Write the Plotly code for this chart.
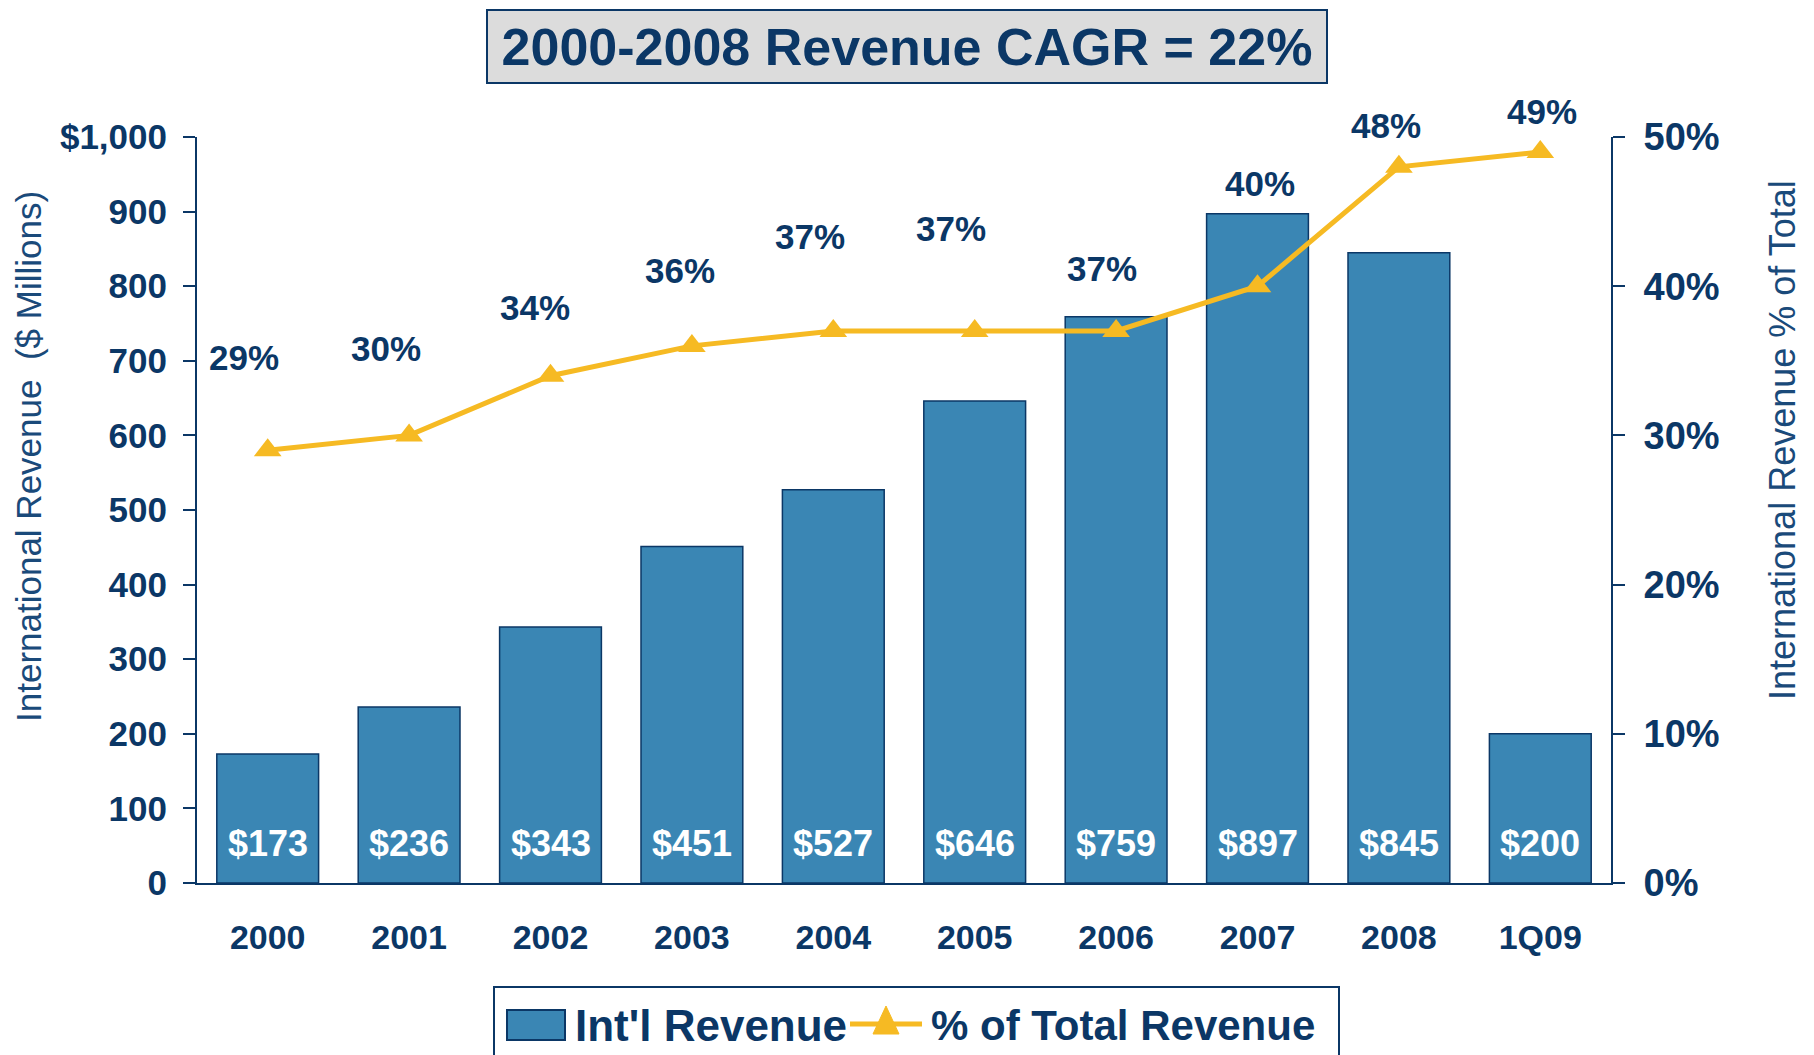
import plotly.graph_objects as go

# ---- data ----
categories = ["2000", "2001", "2002", "2003", "2004", "2005", "2006", "2007", "2008", "1Q09"]
intl_revenue = [173, 236, 343, 451, 527, 646, 759, 897, 845, 200]
pct_of_total = [29, 30, 34, 36, 37, 37, 37, 40, 48, 49]
left_ticks = [0, 100, 200, 300, 400, 500, 600, 700, 800, 900, 1000]
left_tick_text = ["0", "100", "200", "300", "400", "500", "600", "700", "800", "900", "$1,000"]
right_ticks = [0, 10, 20, 30, 40, 50]
right_tick_text = ["0%", "10%", "20%", "30%", "40%", "50%"]

# label offsets (pixels) for % labels relative to the points (style only)
pct_label_dx = [-24, -23, -16, -12, -23, -24, -14, 2, -13, 2]
pct_label_dy = [93, 87, 68, 75, 94, 102, 62, 103, 41, 40]

NAVY = "#0B3766"
BAR = "#3A86B4"
GOLD = "#F6BA23"
FONT = "Liberation Sans, Arial, sans-serif"

W, H = 1814, 1055
L, R, T, B = 197, 1611, 137, 883


def px(x):
    return (x - L) / (R - L)


def py(y):
    return (B - y) / (B - T)


fig = go.Figure()
fig.add_trace(go.Bar(
    x=categories, y=intl_revenue, name="Int'l Revenue",
    marker=dict(color=BAR, line=dict(color=NAVY, width=1.5)),
    showlegend=False, yaxis="y",
))
fig.add_trace(go.Scatter(
    x=categories, y=pct_of_total, name="% of Total Revenue",
    mode="lines+markers", yaxis="y2",
    line=dict(color=GOLD, width=5),
    marker=dict(symbol="triangle-up", size=24, color=GOLD),
    showlegend=False,
))

annotations = []
# bar value labels (x given as category index)
for i, v in enumerate(intl_revenue):
    annotations.append(dict(
        x=i, y=0, xref="x", yref="y", text=f"${v:,}", showarrow=False,
        yanchor="middle", yshift=40,
        font=dict(family=FONT, size=36, color="white", weight="bold"),
    ))
# percent labels
for i, (v, dx, dy) in enumerate(zip(pct_of_total, pct_label_dx, pct_label_dy)):
    annotations.append(dict(
        x=i, y=v, xref="x", yref="y2", text=f"{v}%", showarrow=False,
        yanchor="middle", xanchor="center", xshift=dx, yshift=dy,
        font=dict(family=FONT, size=35, color=NAVY, weight="bold"),
    ))
# title box
annotations.append(dict(
    x=px(907), y=py(47), xref="paper", yref="paper", showarrow=False,
    text="2000-2008 Revenue CAGR = 22%", xanchor="center", yanchor="middle",
    width=838, height=71, borderpad=0, bgcolor="#DCDCDC",
    bordercolor=NAVY, borderwidth=2,
    font=dict(family=FONT, size=52, color=NAVY, weight="bold"),
))
# axis titles
annotations.append(dict(
    x=px(29), y=py(457), xref="paper", yref="paper", showarrow=False,
    text="International Revenue  ($ Millions)", textangle=-90,
    xanchor="center", yanchor="middle",
    font=dict(family=FONT, size=35, color="#1A4A7A"),
))
annotations.append(dict(
    x=px(1782), y=py(440), xref="paper", yref="paper", showarrow=False,
    text="International Revenue % of Total", textangle=-90,
    xanchor="center", yanchor="middle",
    font=dict(family=FONT, size=36, color="#1A4A7A"),
))
# legend texts
annotations.append(dict(
    x=px(573), y=py(1025), xref="paper", yref="paper", showarrow=False,
    text="Int'l Revenue", xanchor="left", yanchor="middle",
    font=dict(family=FONT, size=44, color=NAVY, weight="bold"),
))
annotations.append(dict(
    x=px(929), y=py(1025), xref="paper", yref="paper", showarrow=False,
    text="% of Total Revenue", xanchor="left", yanchor="middle",
    font=dict(family=FONT, size=42, color=NAVY, weight="bold"),
))

shapes = [
    # legend box
    dict(type="rect", xref="paper", yref="paper", x0=px(494), x1=px(1339),
         y0=py(1075), y1=py(987), line=dict(color=NAVY, width=2), fillcolor="white", layer="below"),
    # legend bar swatch
    dict(type="rect", xref="paper", yref="paper", x0=px(507), x1=px(565),
         y0=py(1040), y1=py(1010), line=dict(color=NAVY, width=2), fillcolor=BAR),
    # legend line
    dict(type="line", xref="paper", yref="paper", x0=px(850), x1=px(922),
         y0=py(1024), y1=py(1024), line=dict(color=GOLD, width=5)),
    # legend triangle
    dict(type="path", xref="paper", yref="paper",
         path=f"M {px(873)},{py(1034)} L {px(899)},{py(1034)} L {px(886)},{py(1006)} Z",
         line=dict(color=GOLD, width=1), fillcolor=GOLD),
]

fig.update_layout(
    width=W, height=H,
    margin=dict(l=L, r=W - R, t=T, b=H - B, pad=0),
    paper_bgcolor="white", plot_bgcolor="white",
    bargap=0.28,
    showlegend=False,
    xaxis=dict(
        type="category", range=[-0.5, len(categories) - 0.5],
        showline=True, linecolor=NAVY, linewidth=2, ticks="",
        tickfont=dict(family=FONT, size=34, color=NAVY, weight="bold"),
        ticklabelstandoff=23, showgrid=False,
    ),
    yaxis=dict(
        range=[0, 1000], tickvals=left_ticks, ticktext=left_tick_text,
        showline=True, linecolor=NAVY, linewidth=2, ticks="outside", ticklen=12,
        tickwidth=2, tickcolor=NAVY, showgrid=False, zeroline=False,
        tickfont=dict(family=FONT, size=35, color=NAVY, weight="bold"),
        ticklabelstandoff=9,
    ),
    yaxis2=dict(
        range=[0, 50], overlaying="y", side="right",
        tickvals=right_ticks, ticktext=right_tick_text,
        showline=True, linecolor=NAVY, linewidth=2, ticks="outside",
        ticklen=12, tickwidth=2, tickcolor=NAVY, showgrid=False, zeroline=False,
        tickfont=dict(family=FONT, size=38, color=NAVY, weight="bold"),
        ticklabelstandoff=11,
    ),
    annotations=annotations,
    shapes=shapes,
)

fig.write_html("out.html", config={"displayModeBar": False},
               post_script="document.body.style.margin='0';")
